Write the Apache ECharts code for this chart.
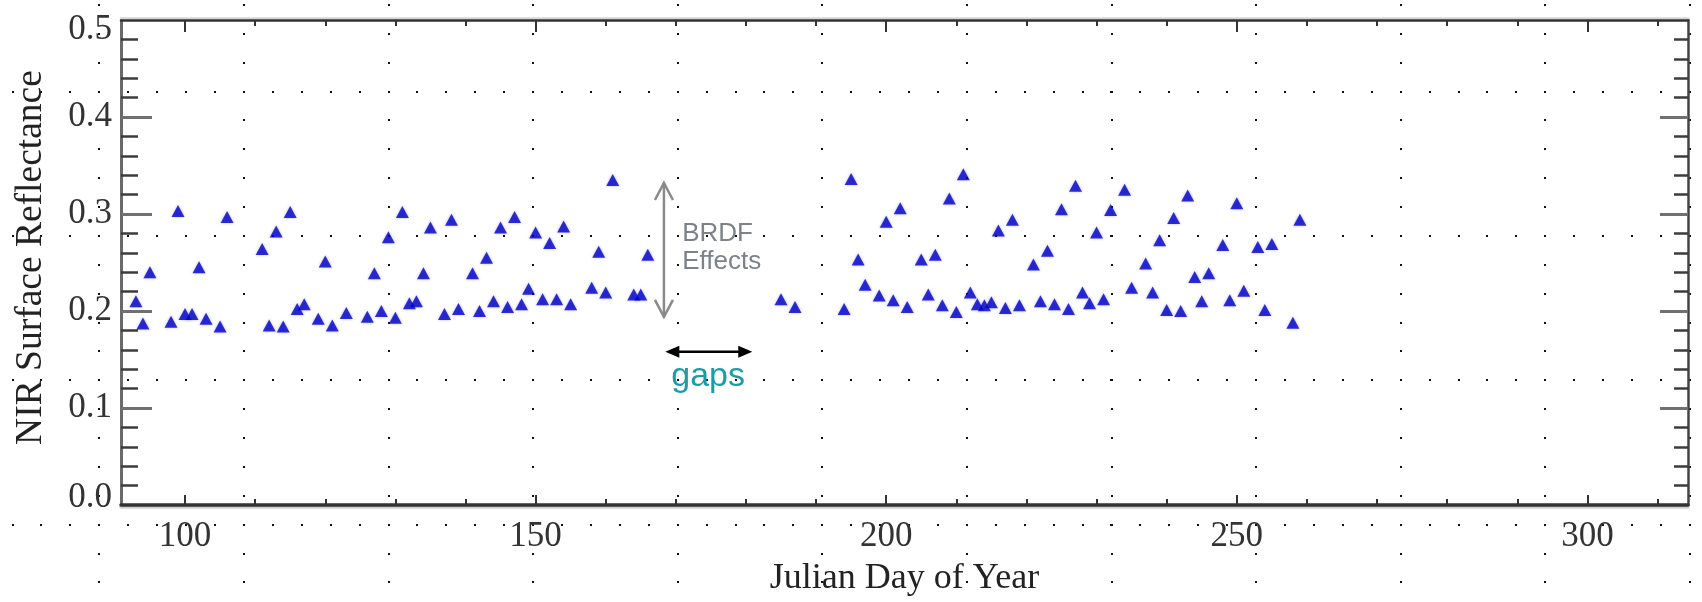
<!DOCTYPE html>
<html>
<head>
<meta charset="utf-8">
<script src="https://cdn.jsdelivr.net/npm/echarts@6/dist/echarts.min.js"></script>
<style>
  html, body { margin: 0; padding: 0; background: #ffffff; }
  #chart { width: 1702px; height: 602px; }
</style>
</head>
<body>
<div id="chart"></div>
<script>
// Julian day of each observation
const days = [93, 94, 95, 98, 99, 100, 101, 102, 103, 105, 106, 111, 112, 113, 114, 115, 116, 117, 119, 120,
  121, 123, 126, 127, 128, 129, 130, 131, 132, 133, 134, 135, 137, 138, 139, 141, 142, 143, 144, 145,
  146, 147, 148, 149, 150, 151, 152, 153, 154, 155, 158, 159, 160, 161, 164, 165, 166, 185, 187, 194,
  195, 196, 197, 199, 200, 201, 202, 203, 205, 206, 207, 208, 209, 210, 211, 212, 213, 214, 215, 216,
  217, 218, 219, 221, 222, 223, 224, 225, 226, 227, 228, 229, 230, 231, 232, 234, 235, 237, 238, 239,
  240, 241, 242, 243, 244, 245, 246, 248, 249, 250, 251, 253, 254, 255, 258, 259];

// NIR surface reflectance for each day
const reflectance = [0.210, 0.187, 0.240, 0.189, 0.303, 0.197, 0.197, 0.245, 0.192, 0.184, 0.297, 0.264, 0.185, 0.282, 0.184, 0.302, 0.202, 0.207, 0.192, 0.251,
  0.185, 0.198, 0.194, 0.239, 0.200, 0.276, 0.193, 0.302, 0.208, 0.210, 0.239, 0.286, 0.197, 0.294, 0.202, 0.239, 0.200, 0.255, 0.210, 0.286,
  0.204, 0.297, 0.207, 0.223, 0.281, 0.212, 0.270, 0.212, 0.287, 0.207, 0.224, 0.261, 0.219, 0.335, 0.217, 0.217, 0.258, 0.212, 0.204, 0.202,
  0.336, 0.253, 0.227, 0.216, 0.292, 0.211, 0.306, 0.204, 0.253, 0.217, 0.258, 0.206, 0.316, 0.199, 0.341, 0.219, 0.207, 0.206, 0.209, 0.283,
  0.203, 0.294, 0.206, 0.248, 0.210, 0.262, 0.207, 0.305, 0.202, 0.329, 0.219, 0.208, 0.281, 0.212, 0.304, 0.325, 0.224, 0.249, 0.219, 0.273,
  0.201, 0.296, 0.200, 0.319, 0.235, 0.210, 0.239, 0.268, 0.211, 0.311, 0.221, 0.266, 0.201, 0.269, 0.188, 0.294];

// Axis ticks and labels
const xLabelTicks = [100, 150, 200, 250, 300];
const xMinorTicks = [110, 120, 130, 140, 160, 170, 180, 190, 210, 220, 230, 240, 260, 270, 280, 290, 310];
const yLabelTicks = [0, 0.1, 0.2, 0.3, 0.4, 0.5];
const yMajorTicks = [0.1, 0.2, 0.3, 0.4];
const yMinorTicks = [0.02, 0.04, 0.06, 0.08, 0.12, 0.14, 0.16, 0.18, 0.22, 0.24, 0.26, 0.28,
  0.32, 0.34, 0.36, 0.38, 0.42, 0.44, 0.46, 0.48];

// Annotation anchors in data units (day, reflectance)
const brdfArrow = { day: 168.3, top: 0.332, bottom: 0.194 };
const brdfText = { day: 170.9, line1: 0.2796, line2: 0.251 };
const gapsArrow = { from: 168.5, to: 180.9, value: 0.158 };
const gapsText = { day: 174.6, value: 0.1325 };

const X_MIN = 90.87, X_MAX = 314.35;
const serif = 'Liberation Serif';
const labelColor = '#333';

const chart = echarts.init(document.getElementById('chart'), null, { renderer: 'canvas' });

function xAxisDef(position, ticks, len, showLabels, lineStyle) {
  return {
    type: 'value', position: position, min: X_MIN, max: X_MAX,
    axisLine: { show: !!lineStyle, onZero: false, lineStyle: lineStyle || {} },
    axisTick: { show: true, inside: true, length: len, customValues: ticks,
      lineStyle: { color: '#333', width: 2 } },
    axisLabel: showLabels ? {
      show: true, customValues: ticks, margin: 14, color: labelColor,
      fontFamily: serif, fontSize: 35, formatter: v => String(Math.round(v))
    } : { show: false },
    splitLine: { show: false }
  };
}

function yAxisDef(position, ticks, len, color, width, withLabels, lineStyle) {
  const ax = {
    type: 'value', position: position, min: 0, max: 0.5,
    axisLine: { show: !!lineStyle, onZero: false, lineStyle: lineStyle || {} },
    axisTick: { show: true, inside: true, length: len, customValues: ticks,
      lineStyle: { color: color, width: width } },
    axisLabel: { show: false },
    splitLine: { show: false }
  };
  if (withLabels) {
    ax.axisLabel = {
      show: true, customValues: yLabelTicks, margin: 9, color: labelColor,
      fontFamily: serif, fontSize: 35,
      formatter: v => {
        const s = v.toFixed(1);
        if (Math.abs(v) < 1e-9) return '{lo|' + s + '}';
        if (Math.abs(v - 0.5) < 1e-9) return '{hi|' + s + '}';
        return s;
      },
      rich: {
        lo: { fontFamily: serif, fontSize: 35, color: labelColor, padding: [0, 0, 14, 0] },
        hi: { fontFamily: serif, fontSize: 35, color: labelColor, padding: [20, 0, 0, 0] }
      }
    };
    ax.name = 'NIR Surface Reflectance';
    ax.nameLocation = 'middle';
    ax.nameGap = 71;
    ax.nameTextStyle = { fontFamily: serif, fontSize: 37.5, color: '#222', padding: [0, 0, 0, 10] };
  }
  return ax;
}

const bottomMain = xAxisDef('bottom', xLabelTicks, 10, true,
  { color: '#333', width: 3.5, shadowColor: '#d0d0d0', shadowOffsetY: 2 });
bottomMain.name = 'Julian Day of Year';
bottomMain.nameLocation = 'middle';
bottomMain.nameGap = 56;
bottomMain.nameTextStyle = { fontFamily: serif, fontSize: 36, color: '#222' };

const option = {
  backgroundColor: '#ffffff',
  animation: false,
  grid: { left: 121, right: 14, top: 20, bottom: 92, containLabel: false },
  xAxis: [
    bottomMain,
    xAxisDef('bottom', xMinorTicks, 6, false, null),
    xAxisDef('top', xLabelTicks, 12, false,
      { color: '#333', width: 2.5, shadowColor: '#d6d6d6', shadowOffsetY: -2 }),
    xAxisDef('top', xMinorTicks, 6, false, null)
  ],
  yAxis: [
    yAxisDef('left', yMajorTicks, 31, '#707070', 3, true, { color: '#6a6a6a', width: 3 }),
    yAxisDef('left', yMinorTicks, 17, '#3c3c3c', 2.5, false, null),
    yAxisDef('right', yMajorTicks, 28, '#707070', 3, false, { color: '#444', width: 2.5 }),
    yAxisDef('right', yMinorTicks, 14, '#3c3c3c', 2.5, false, null)
  ],
  series: [{
    type: 'scatter',
    xAxisIndex: 0, yAxisIndex: 0,
    symbol: 'triangle',
    symbolSize: [13, 12],
    itemStyle: { color: '#0000c4', shadowBlur: 3, shadowColor: 'rgba(60,60,220,0.45)' },
    data: days.map((d, i) => [d, reflectance[i]]),
    z: 5
  }]
};

chart.setOption(option);

// Annotations and the dotted background lattice, placed after the axes exist
const px = (d, v) => chart.convertToPixel({ xAxisIndex: 0, yAxisIndex: 0 }, [d, v]);
const graphics = [];

// BRDF double-headed arrow (open heads)
const bt = px(brdfArrow.day, brdfArrow.top);
const bb = px(brdfArrow.day, brdfArrow.bottom);
const grey = { stroke: '#8a8a8a', lineWidth: 2.5, fill: null };
graphics.push({ type: 'line', shape: { x1: bt[0], y1: bt[1], x2: bb[0], y2: bb[1] }, style: grey, z: 20 });
graphics.push({ type: 'polyline', shape: { points: [[bt[0] - 9, bt[1] + 17], [bt[0], bt[1]], [bt[0] + 9, bt[1] + 17]] }, style: grey, z: 20 });
graphics.push({ type: 'polyline', shape: { points: [[bb[0] - 9, bb[1] - 17], [bb[0], bb[1]], [bb[0] + 9, bb[1] - 17]] }, style: grey, z: 20 });
const t1 = px(brdfText.day, brdfText.line1);
const t2 = px(brdfText.day, brdfText.line2);
const sansGrey = { fill: '#7c8288', font: '26px "Liberation Sans"', textAlign: 'left', textVerticalAlign: 'middle' };
graphics.push({ type: 'text', x: t1[0], y: t1[1], style: Object.assign({ text: 'BRDF' }, sansGrey), z: 20 });
graphics.push({ type: 'text', x: t2[0], y: t2[1], style: Object.assign({ text: 'Effects' }, sansGrey), z: 20 });

// gaps double-headed arrow (solid heads)
const gl = px(gapsArrow.from, gapsArrow.value);
const gr = px(gapsArrow.to, gapsArrow.value);
graphics.push({ type: 'line', shape: { x1: gl[0] + 10, y1: gl[1], x2: gr[0] - 10, y2: gr[1] }, style: { stroke: '#000', lineWidth: 2.5 }, z: 20 });
graphics.push({ type: 'polygon', shape: { points: [[gl[0], gl[1]], [gl[0] + 14, gl[1] - 6], [gl[0] + 14, gl[1] + 6]] }, style: { fill: '#000' }, z: 20 });
graphics.push({ type: 'polygon', shape: { points: [[gr[0], gr[1]], [gr[0] - 14, gr[1] - 6], [gr[0] - 14, gr[1] + 6]] }, style: { fill: '#000' }, z: 20 });
const gt = px(gapsText.day, gapsText.value);
graphics.push({ type: 'text', x: gt[0], y: gt[1], style: { text: 'gaps', fill: '#1a9ea6', font: '34px "Liberation Sans"', textAlign: 'center', textVerticalAlign: 'middle' }, z: 20 });

// Dotted lattice drawn over the whole page
const dots = [];
const colStep = 144.6, dotStepX = 28.92, rowStep = 144.3, dotStepY = 28.87;
const col0 = 99.3, row0 = 91.6, top0 = 5;
for (let j = 0; row0 + j * rowStep < 602; j++) {
  const y = row0 + j * rowStep;
  for (let x = col0 - 3 * dotStepX; x < 1702; x += dotStepX) {
    dots.push({ type: 'rect', shape: { x: Math.round(x) - 1, y: Math.round(y) - 1, width: 2, height: 2 }, style: { fill: '#111' }, silent: true });
  }
}
for (let k = 0; col0 + k * colStep < 1702; k++) {
  const x = col0 + k * colStep;
  for (let y = top0; y < 602; y += dotStepY) {
    dots.push({ type: 'rect', shape: { x: Math.round(x) - 1, y: Math.round(y) - 1, width: 2, height: 2 }, style: { fill: '#111' }, silent: true });
  }
}
graphics.push({ type: 'group', children: dots, z: 30, silent: true });

chart.setOption({ graphic: graphics });
</script>
</body>
</html>
